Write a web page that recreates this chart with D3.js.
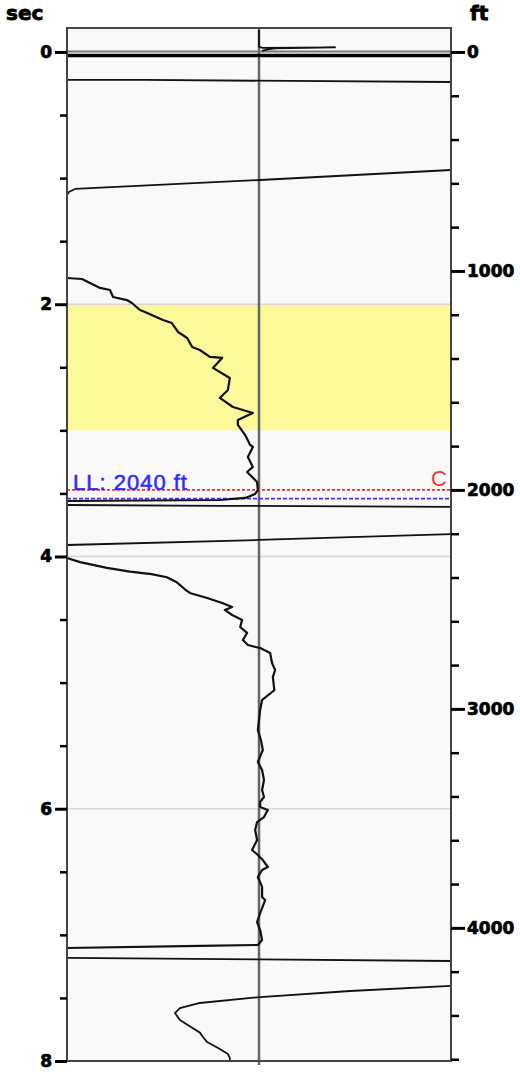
<!DOCTYPE html>
<html>
<head>
<meta charset="utf-8">
<script src="https://cdn.jsdelivr.net/npm/d3@7"></script>
<style>
  body { margin: 0; background: #fff; }
  .axis text { font-family: "DejaVu Sans", sans-serif; font-weight: bold; font-size: 17px; fill: #000; stroke: #000; stroke-width: 0.7px; }
  .axis line { stroke: #000; }
</style>
</head>
<body>
<svg id="log" width="520" height="1072"></svg>
<script>
// time axis (sec) and depth axis (ft)
const secMajor = [0, 2, 4, 6, 8];
const secMinor = [0.5, 1, 1.5, 2.5, 3, 3.5, 4.5, 5, 5.5, 6.5, 7, 7.5];
const ftMajor = [0, 1000, 2000, 3000, 4000];
const ftMinor = [200, 400, 600, 800, 1200, 1400, 1600, 1800, 2200, 2400, 2600, 2800, 3200, 3400, 3600, 3800, 4200, 4400, 4600];
const secGrid = [2, 4, 6];
const ftAtEnd = 4608;          // depth reached at 8 sec

// shaded zone (sec)
const zone = [2.0, 3.0];

// markers (ft)
const markC = 2000;
const markLL = 2040;

// curve traces, [track value 0..100, sec]
const traceTop = [[50.0, -0.174], [50.0, -0.040], [51.0, -0.032], [69.8, -0.036], [54.2, -0.028], [52.3, -0.020], [50.8, -0.008]];
const wrapA = [[0, -0.004], [100, -0.004]];
const wrapB = [[0, 0.028], [100, 0.028]];
const wrapC = [[0, 0.222], [20.3, 0.222], [58.1, 0.230], [100, 0.238]];
const wrapD = [[100, 0.936], [50.3, 1.015], [2.1, 1.086], [0.5, 1.110], [0, 1.134]];
const traceB = [[0, 1.792], [3.9, 1.800], [6.0, 1.832], [8.6, 1.871], [11.2, 1.887], [12.0, 1.943], [15.6, 1.967],
  [16.9, 1.990], [19.0, 2.046], [20.3, 2.061], [25.0, 2.125], [27.3, 2.149], [28.9, 2.220], [31.3, 2.268],
  [32.6, 2.339], [34.6, 2.363], [37.2, 2.418], [40.4, 2.426], [38.0, 2.505], [42.4, 2.585], [41.9, 2.680],
  [39.8, 2.743], [43.2, 2.815], [48.4, 2.862], [44.5, 2.918], [44.5, 2.957], [46.4, 3.037], [47.7, 3.116],
  [48.4, 3.132], [47.1, 3.211], [48.4, 3.290], [46.9, 3.330], [49.5, 3.409], [49.7, 3.473], [49.0, 3.504],
  [46.4, 3.536], [39.8, 3.552], [0, 3.560]];
const wrapE = [[0, 3.592], [40, 3.598], [100, 3.607]];
const wrapF = [[100, 3.822], [50, 3.869], [0, 3.909]];
const traceC = [[0, 4.012], [3.4, 4.045], [10.4, 4.090], [16.4, 4.120], [22.0, 4.140], [26.0, 4.165], [28.6, 4.205],
  [30.7, 4.260], [32.0, 4.289], [36.5, 4.329], [40.4, 4.369], [43.0, 4.400], [41.1, 4.424], [43.0, 4.464],
  [45.6, 4.503], [45.1, 4.559], [46.9, 4.606], [45.8, 4.662], [47.1, 4.702], [50.3, 4.726], [52.9, 4.765],
  [53.4, 4.845], [54.2, 4.900], [53.6, 4.956], [54.0, 5.059], [50.8, 5.138], [50.3, 5.217], [49.7, 5.376],
  [50.5, 5.455], [51.0, 5.534], [49.7, 5.629], [50.8, 5.693], [51.3, 5.772], [50.8, 5.852], [51.3, 5.907],
  [50.3, 5.946], [50.3, 5.986], [52.3, 6.010], [51.3, 6.066], [49.5, 6.106], [49.0, 6.169], [49.5, 6.248],
  [48.2, 6.327], [49.7, 6.367], [51.0, 6.407], [52.3, 6.462], [50.8, 6.486], [49.7, 6.541], [50.8, 6.620],
  [50.8, 6.700], [51.6, 6.724], [50.3, 6.827], [49.5, 6.898], [50.3, 6.962], [50.8, 7.041], [49.7, 7.080],
  [34.6, 7.088], [0, 7.104]];
const wrapG = [[0, 7.183], [50, 7.195], [100, 7.207]];
const traceD = [[100, 7.405], [73.7, 7.445], [50.3, 7.493], [34.6, 7.540], [29.4, 7.580], [28.1, 7.620],
  [29.4, 7.675], [32.8, 7.740], [34.6, 7.775], [35.4, 7.810], [36.5, 7.850], [39.8, 7.905], [41.9, 7.945],
  [42.4, 7.975], [42.4, 8.0]];

const traces = [traceTop, wrapC, wrapD, traceB, wrapE, wrapF, traceC, wrapG, traceD];

const svg = d3.select("#log");
const left = 67, right = 451;

let y = d3.scaleLinear().domain([-0.19, 8]).range([28, 1061]);
let x = d3.scaleLinear().domain([0, 100]).range([left, right]);
let ft = d3.scaleLinear().domain([0, ftAtEnd]).range([y(0), y(8)]);

// panel
svg.append("rect")
	.attr("x", left).attr("y", y(-0.19))
	.attr("width", right - left).attr("height", y(8) - y(-0.19))
	.attr("fill", "#f9f9f9");

svg.append("rect")
	.attr("x", left).attr("y", y(zone[0]))
	.attr("width", right - left).attr("height", y(zone[1]) - y(zone[0]))
	.attr("fill", "#fcf99a");

svg.selectAll(".grid")
	.data(secGrid)
	.enter().append("line")
	.attr("class", "grid")
	.attr("x1", left).attr("x2", right)
	.attr("y1", d => y(d)).attr("y2", d => y(d))
	.attr("stroke", "#d6d6d6").attr("stroke-width", 1.5);

// centre line
svg.append("line")
	.attr("x1", x(50)).attr("x2", x(50))
	.attr("y1", y(-0.19)).attr("y2", y(8) + 4)
	.attr("stroke", "#666").attr("stroke-width", 2.5);

// markers
svg.append("line")
	.attr("x1", left).attr("x2", right)
	.attr("y1", ft(markC)).attr("y2", ft(markC))
	.attr("stroke", "#ff2a2a").attr("stroke-width", 1.8)
	.attr("stroke-dasharray", "3,2");

svg.append("line")
	.attr("x1", left).attr("x2", right)
	.attr("y1", ft(markLL)).attr("y2", ft(markLL))
	.attr("stroke", "#3a3aff").attr("stroke-width", 1.8)
	.attr("stroke-dasharray", "4,2");

// curves
let line = d3.line().x(d => x(d[0])).y(d => y(d[1]));

svg.append("path").datum(wrapA)
	.attr("d", line).attr("fill", "none")
	.attr("stroke", "#777").attr("stroke-width", 2);
svg.append("path").datum(wrapB)
	.attr("d", line).attr("fill", "none")
	.attr("stroke", "#000").attr("stroke-width", 3.5);

svg.selectAll(".trace")
	.data(traces)
	.enter().append("path")
	.attr("class", "trace")
	.attr("d", line)
	.attr("fill", "none")
	.attr("stroke", "#111")
	.attr("stroke-width", d => (d === traceB || d === traceC) ? 2.2 : 1.8)
	.attr("stroke-linejoin", "round");

// frame
svg.append("rect")
	.attr("x", left).attr("y", y(-0.19))
	.attr("width", right - left).attr("height", y(8) - y(-0.19))
	.attr("fill", "none")
	.attr("stroke", "#444").attr("stroke-width", 2);

// labels
svg.append("text")
	.attr("x", 73).attr("y", ft(markLL) - 9)
	.attr("fill", "#2b2bff")
	.attr("stroke", "#2b2bff").attr("stroke-width", 0.5)
	.style("font", "22px 'Liberation Sans', Arial, sans-serif")
	.style("letter-spacing", "1px")
	.text("LL: " + markLL + " ft");

svg.append("text")
	.attr("x", 447).attr("y", ft(markC) - 4)
	.attr("fill", "#ff3030")
	.style("text-anchor", "end")
	.style("font", "22px 'Liberation Sans', Arial, sans-serif")
	.text("C");

// axes
svg.append("g")
	.attr("class", "axis")
	.attr("transform", "translate(" + left + ",0)")
	.call(d3.axisLeft(y).tickValues(secMajor).tickSize(12).tickPadding(3).tickFormat(d3.format("d")))
	.call(g => g.select(".domain").remove())
	.call(g => g.selectAll("line").attr("stroke-width", 3));

svg.append("g")
	.attr("class", "axis")
	.attr("transform", "translate(" + left + ",0)")
	.call(d3.axisLeft(y).tickValues(secMinor).tickSize(7).tickFormat(""))
	.call(g => g.select(".domain").remove())
	.call(g => g.selectAll("line").attr("stroke-width", 2.5));

svg.append("g")
	.attr("class", "axis")
	.attr("transform", "translate(" + right + ",0)")
	.call(d3.axisRight(ft).tickValues(ftMajor).tickSize(14).tickPadding(2).tickFormat(d3.format("d")))
	.call(g => g.select(".domain").remove())
	.call(g => g.selectAll("line").attr("stroke-width", 3));

svg.append("g")
	.attr("class", "axis")
	.attr("transform", "translate(" + right + ",0)")
	.call(d3.axisRight(ft).tickValues(ftMinor).tickSize(8).tickFormat(""))
	.call(g => g.select(".domain").remove())
	.call(g => g.selectAll("line").attr("stroke-width", 2.5));

// axis titles
svg.append("text")
	.attr("x", 6).attr("y", 20)
	.attr("stroke", "#000").attr("stroke-width", 0.8)
	.style("font", "bold 20px 'DejaVu Sans', sans-serif")
	.text("sec");

svg.append("text")
	.attr("x", 470).attr("y", 20)
	.attr("stroke", "#000").attr("stroke-width", 0.8)
	.style("font", "bold 20px 'DejaVu Sans', sans-serif")
	.text("ft");
</script>
</body>
</html>
